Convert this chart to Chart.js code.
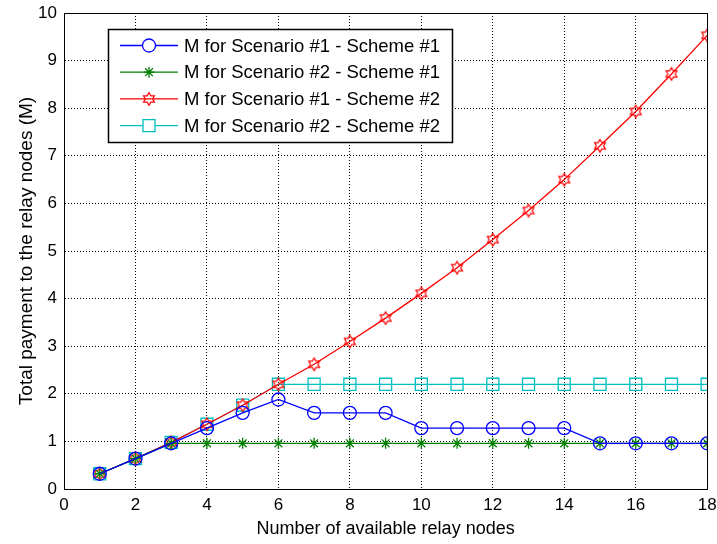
<!DOCTYPE html>
<html>
<head>
<meta charset="utf-8">
<script src="https://cdn.jsdelivr.net/npm/chart.js@4.4.0/dist/chart.umd.min.js"></script>
<style>
  html, body { margin: 0; padding: 0; background: #fff; }
  #wrap { width: 717px; height: 544px; }
</style>
</head>
<body>
<div id="wrap"><canvas id="c" width="717" height="544"></canvas></div>
<script>
// data
const nodes = [1, 2, 3, 4, 5, 6, 7, 8, 9, 10, 11, 12, 13, 14, 15, 16, 17, 18];
const sc1Sch1 = [0.32, 0.64, 0.96, 1.28, 1.6, 1.88, 1.6, 1.6, 1.6, 1.28, 1.28, 1.28, 1.28, 1.28, 0.96, 0.96, 0.96, 0.96];
const sc2Sch1 = [0.32, 0.64, 0.96, 0.96, 0.96, 0.96, 0.96, 0.96, 0.96, 0.96, 0.96, 0.96, 0.96, 0.96, 0.96, 0.96, 0.96, 0.96];
const sc1Sch2 = [0.32, 0.64, 0.98, 1.36, 1.76, 2.2, 2.62, 3.1, 3.59, 4.11, 4.65, 5.24, 5.85, 6.5, 7.21, 7.93, 8.72, 9.53];
const sc2Sch2 = [0.32, 0.64, 0.98, 1.36, 1.76, 2.2, 2.2, 2.2, 2.2, 2.2, 2.2, 2.2, 2.2, 2.2, 2.2, 2.2, 2.2, 2.2];
const seriesNames = [
    'M for Scenario #1 - Scheme #1',
    'M for Scenario #2 - Scheme #1',
    'M for Scenario #1 - Scheme #2',
    'M for Scenario #2 - Scheme #2'
];
const xTicks = [0, 2, 4, 6, 8, 10, 12, 14, 16, 18];
const yTicks = [0, 1, 2, 3, 4, 5, 6, 7, 8, 9, 10];

const FONT = '"Liberation Sans", Arial, sans-serif';

function pts(ys) {
    return nodes.map((x, i) => ({x: x, y: ys[i]}));
}

// hexagram marker (matlab 'h')
function hexagram(r, color) {
    const c = document.createElement('canvas');
    const s = Math.ceil(r * 2 + 3);
    c.width = s; c.height = s;
    const g = c.getContext('2d');
    const cx = s / 2, cy = s / 2;
    g.strokeStyle = color;
    g.lineWidth = 1.2;
    g.beginPath();
    for (let i = 0; i < 12; i++) {
        const rr = i % 2 === 0 ? r : r * 0.58;
        const a = -Math.PI / 2 + i * Math.PI / 6;
        const px = cx + rr * Math.cos(a), py = cy + rr * Math.sin(a);
        if (i === 0) g.moveTo(px, py); else g.lineTo(px, py);
    }
    g.closePath();
    g.stroke();
    return c;
}
const hexRed = hexagram(6.3, '#ff0000');

function ds(label, ys, color, style, radius) {
    return {
        label: label,
        data: pts(ys),
        borderColor: color,
        backgroundColor: 'rgba(0,0,0,0)',
        pointBorderColor: color,
        pointBackgroundColor: 'rgba(0,0,0,0)',
        pointStyle: style,
        pointRadius: radius,
        pointBorderWidth: 1.3,
        borderWidth: 1.3,
        tension: 0
    };
}

const matlabBox = {
    id: 'matlabBox',
    afterDatasetsDraw(chart) {
        const {ctx, chartArea: a} = chart;
        ctx.save();
        ctx.strokeStyle = '#000';
        ctx.lineWidth = 1;
        ctx.strokeRect(Math.round(a.left) + 0.5, Math.round(a.top) + 0.5,
            Math.round(a.right - a.left), Math.round(a.bottom - a.top));
        // legend box
        const lx = 108.5, ly = 29.5, lw = 344, lh = 113;
        ctx.fillStyle = '#fff';
        ctx.fillRect(lx, ly, lw, lh);
        ctx.lineWidth = 1.5;
        ctx.strokeRect(lx, ly, lw, lh);
        ctx.font = '18.5px ' + FONT;
        ctx.textBaseline = 'middle';
        chart.data.datasets.forEach((d, i) => {
            const y = 45.5 + i * 26.7;
            ctx.strokeStyle = d.borderColor;
            ctx.lineWidth = 1.3;
            ctx.beginPath();
            ctx.moveTo(120, y);
            ctx.lineTo(178, y);
            ctx.stroke();
            if (d.pointStyle instanceof HTMLCanvasElement) {
                ctx.drawImage(d.pointStyle, 149 - d.pointStyle.width / 2, y - d.pointStyle.height / 2);
            } else {
                ctx.fillStyle = '#fff';
                Chart.helpers.drawPoint(ctx, {
                    pointStyle: d.pointStyle, radius: d.pointRadius, borderWidth: 1.3
                }, 149, y);
            }
            ctx.fillStyle = '#000';
            ctx.fillText(d.label, 184, y + 1);
        });
        ctx.restore();
    }
};

new Chart(document.getElementById('c'), {
    type: 'line',
    data: {
        datasets: [
            ds(seriesNames[0], sc1Sch1, '#0000ff', 'circle', 6.5),
            ds(seriesNames[1], sc2Sch1, '#008000', 'star', 5.5),
            ds(seriesNames[2], sc1Sch2, '#ff0000', hexRed, 7),
            ds(seriesNames[3], sc2Sch2, '#00bfbf', 'rect', 8.5)
        ]
    },
    options: {
        responsive: false,
        animation: false,
        layout: {padding: {left: 2, right: 0, top: 0, bottom: 0}},
        plugins: {
            legend: {display: false},
            tooltip: {enabled: false}
        },
        scales: {
            x: {
                type: 'linear',
                min: 0, max: 18,
                afterBuildTicks: s => { s.ticks = xTicks.map(v => ({value: v})); },
                afterFit: s => { s.height = 55; s.paddingRight = 5; s.paddingLeft = 0; },
                ticks: {color: '#000', font: {family: FONT, size: 17}, padding: 6, maxRotation: 0},
                grid: {color: '#000', lineWidth: 1, tickLength: 0, drawTicks: false},
                border: {display: true, color: '#000', dash: [1, 2]},
                title: {display: true, text: 'Number of available relay nodes', color: '#000',
                    font: {family: FONT, size: 18}, padding: {top: 4, bottom: 4}}
            },
            y: {
                min: 0, max: 10,
                afterBuildTicks: s => { s.ticks = yTicks.map(v => ({value: v})); },
                afterFit: s => { s.width = 62; s.paddingTop = 13; s.paddingBottom = 0; },
                ticks: {color: '#000', font: {family: FONT, size: 17}, padding: 7},
                grid: {color: '#000', lineWidth: 1, drawTicks: false},
                border: {display: true, color: '#000', dash: [1, 2]},
                title: {display: true, text: 'Total payment to the relay nodes (M)', color: '#000',
                    font: {family: FONT, size: 19}, padding: {top: 13, bottom: 12}}
            }
        }
    },
    plugins: [matlabBox]
});
</script>
</body>
</html>
